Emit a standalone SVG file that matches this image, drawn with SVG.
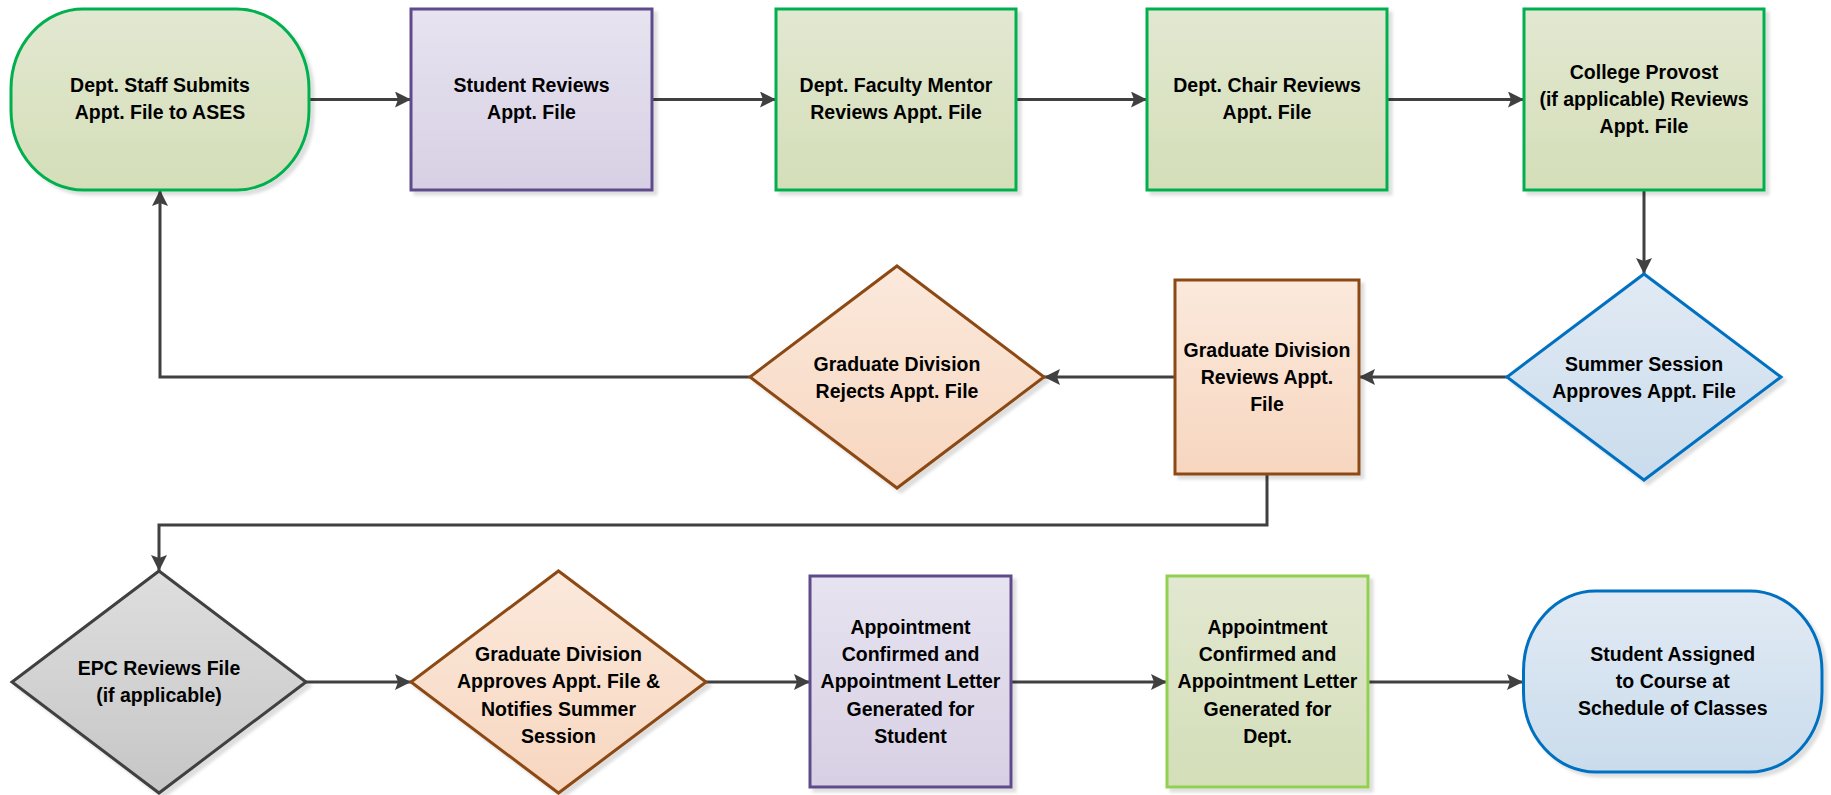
<svg xmlns="http://www.w3.org/2000/svg" width="1831" height="795" viewBox="0 0 1831 795">
<defs>
<linearGradient id="gGreen" x1="0" y1="0" x2="0" y2="1"><stop offset="0" stop-color="#e2e8d1"/><stop offset="1" stop-color="#d4deb8"/></linearGradient>
<linearGradient id="gLav" x1="0" y1="0" x2="0" y2="1"><stop offset="0" stop-color="#e7e3f0"/><stop offset="1" stop-color="#d7d0e4"/></linearGradient>
<linearGradient id="gBlue" x1="0" y1="0" x2="0" y2="1"><stop offset="0" stop-color="#e1eaf4"/><stop offset="1" stop-color="#cadcec"/></linearGradient>
<linearGradient id="gOrange" x1="0" y1="0" x2="0" y2="1"><stop offset="0" stop-color="#fbe9dc"/><stop offset="1" stop-color="#f7d6bf"/></linearGradient>
<linearGradient id="gGray" x1="0" y1="0" x2="0" y2="1"><stop offset="0" stop-color="#dedede"/><stop offset="1" stop-color="#c6c6c6"/></linearGradient>
<filter id="sh" x="-10%" y="-10%" width="130%" height="130%"><feDropShadow dx="4" dy="4" stdDeviation="1.5" flood-color="#000" flood-opacity="0.13"/></filter>
<marker id="arr" markerUnits="userSpaceOnUse" markerWidth="18" markerHeight="16" refX="16" refY="8" orient="auto"><path d="M0,0 L16,8 L0,16 L3,8 Z" fill="#404040"/></marker>
</defs>
<style>
.s{stroke-width:3;filter:url(#sh)}
.green{fill:url(#gGreen);stroke:#00b050}
.lgreen{fill:url(#gGreen);stroke:#92d050}
.lav{fill:url(#gLav);stroke:#5f4b8b}
.blue{fill:url(#gBlue);stroke:#0070c0}
.orange{fill:url(#gOrange);stroke:#8c4a12}
.gray{fill:url(#gGray);stroke:#404040}
text{font-family:"Liberation Sans",Arial,sans-serif;font-weight:bold;font-size:19.5px;fill:#000;text-anchor:middle}
.c{fill:none;stroke:#404040;stroke-width:3;marker-end:url(#arr)}
</style>
<g id="connectors">
<path class="c" d="M309,99.5 H411"/>
<path class="c" d="M652,99.5 H776"/>
<path class="c" d="M1016,99.5 H1147"/>
<path class="c" d="M1387,99.5 H1524"/>
<path class="c" d="M1644,190 V274"/>
<path class="c" d="M1507,377 H1359"/>
<path class="c" d="M1175,377 H1044"/>
<path class="c" d="M750,377 H160 V190"/>
<path class="c" d="M1267,474 V525 H159 V571"/>
<path class="c" d="M306,682 H411"/>
<path class="c" d="M706,682 H810"/>
<path class="c" d="M1011,682 H1167"/>
<path class="c" d="M1368,682 H1523"/>
</g>
<g id="n1"><rect class="s green" x="11" y="9" width="298" height="181" rx="72" ry="80"/>
<text x="160" y="91.5">Dept. Staff Submits</text><text x="160" y="119">Appt. File to ASES</text></g>
<g id="n2"><rect class="s lav" x="411" y="9" width="241" height="181"/>
<text x="531.5" y="91.5">Student Reviews</text><text x="531.5" y="119">Appt. File</text></g>
<g id="n3"><rect class="s green" x="776" y="9" width="240" height="181"/>
<text x="896" y="91.5">Dept. Faculty Mentor</text><text x="896" y="119">Reviews Appt. File</text></g>
<g id="n4"><rect class="s green" x="1147" y="9" width="240" height="181"/>
<text x="1267" y="91.5">Dept. Chair Reviews</text><text x="1267" y="119">Appt. File</text></g>
<g id="n5"><rect class="s green" x="1524" y="9" width="240" height="181"/>
<text x="1644" y="78.5">College Provost</text><text x="1644" y="106">(if applicable) Reviews</text><text x="1644" y="133">Appt. File</text></g>
<g id="n6"><polygon class="s blue" points="1644,274 1781,377 1644,480 1507,377"/>
<text x="1644" y="370.5">Summer Session</text><text x="1644" y="398">Approves Appt. File</text></g>
<g id="n7"><rect class="s orange" x="1175" y="280" width="184" height="194"/>
<text x="1267" y="356.5">Graduate Division</text><text x="1267" y="384">Reviews Appt.</text><text x="1267" y="411">File</text></g>
<g id="n8"><polygon class="s orange" points="897,266 1044,377 897,488 750,377"/>
<text x="897" y="370.5">Graduate Division</text><text x="897" y="398">Rejects Appt. File</text></g>
<g id="n9"><polygon class="s gray" points="159,571 306,682 159,793 12,682"/>
<text x="159" y="674.5">EPC Reviews File</text><text x="159" y="701.5">(if applicable)</text></g>
<g id="n10"><polygon class="s orange" points="558.5,571 706,682 558.5,793 411,682"/>
<text x="558.5" y="661">Graduate Division</text><text x="558.5" y="688">Approves Appt. File &amp;</text><text x="558.5" y="715.5">Notifies Summer</text><text x="558.5" y="742.5">Session</text></g>
<g id="n11"><rect class="s lav" x="810" y="576" width="201" height="211"/>
<text x="910.5" y="633.5">Appointment</text><text x="910.5" y="661">Confirmed and</text><text x="910.5" y="688">Appointment Letter</text><text x="910.5" y="715.5">Generated for</text><text x="910.5" y="742.5">Student</text></g>
<g id="n12"><rect class="s lgreen" x="1167" y="576" width="201" height="211"/>
<text x="1267.5" y="633.5">Appointment</text><text x="1267.5" y="661">Confirmed and</text><text x="1267.5" y="688">Appointment Letter</text><text x="1267.5" y="715.5">Generated for</text><text x="1267.5" y="742.5">Dept.</text></g>
<g id="n13"><rect class="s blue" x="1523.5" y="591" width="298.5" height="181" rx="72" ry="80"/>
<text x="1672.75" y="661">Student Assigned</text><text x="1672.75" y="688">to Course at</text><text x="1672.75" y="715">Schedule of Classes</text></g>
</svg>
